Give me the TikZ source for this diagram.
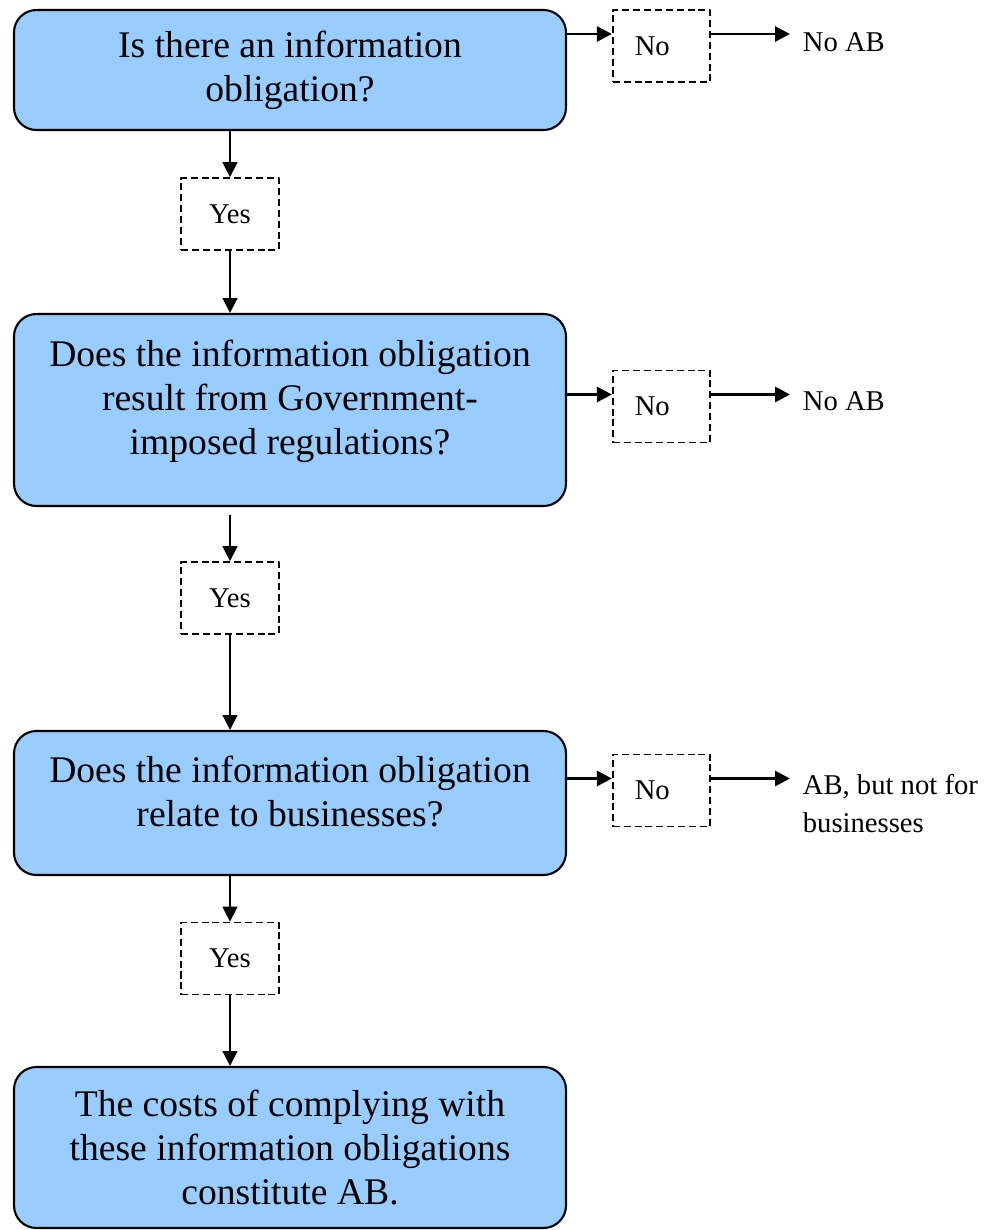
\documentclass[tikz,border=0pt]{standalone}
\usepackage{fontspec}
\setmainfont{Liberation Serif}
\usetikzlibrary{arrows.meta}
\definecolor{qblue}{HTML}{99CCFF}
\begin{document}
\begin{tikzpicture}[line join=round, >={Triangle[length=8.5pt,width=8.5pt]},
	qbox/.style={draw, line width=1.2pt, fill=qblue, rounded corners=0.45cm, minimum width=11.04cm, align=center, font=\fontsize{21.4}{25}\selectfont},
	ansbox/.style={draw, dash pattern=on 4pt off 2.2pt, line width=1pt, minimum width=1.95cm, minimum height=1.44cm, font=\fontsize{16.3}{21.6}\selectfont},
	nobox/.style={ansbox, text width=1.07cm, inner xsep=0.44cm, align=left},
	res/.style={anchor=west, align=left, inner xsep=0.25cm, font=\fontsize{16.3}{21.6}\selectfont},
	hline/.style={->, line width=1.6pt},
	vline/.style={->, line width=0.8pt}]
	\useasboundingbox (0,0) rectangle (19.8,-24.6);
	% questions
	\node[qbox, minimum height=2.4cm] (q1) at (5.8,-1.4) {Is there an information\\obligation?};
	\node[qbox, minimum height=3.84cm, text depth=0.52cm] (q2) at (5.8,-8.2) {Does the information obligation\\result from Government-\\imposed regulations?};
	\node[qbox, minimum height=2.88cm, text depth=0.48cm] (q3) at (5.8,-16.06) {Does the information obligation\\relate to businesses?};
	\node[qbox, minimum height=3.22cm] (q4) at (5.8,-22.95) {The costs of complying with\\these information obligations\\constitute AB.};
	% answers
	\node[ansbox] (y1) at (4.6,-4.28) {Yes};
	\node[ansbox] (y2) at (4.6,-11.96) {Yes};
	\node[ansbox] (y3) at (4.6,-19.17) {Yes};
	\node[nobox] (n1) at (13.23,-0.92) {No};
	\node[nobox] (n2) at (13.23,-8.13) {No};
	\node[nobox] (n3) at (13.23,-15.81) {No};
	% results
	\node[res] (r1) at (15.8,-0.84) {No AB};
	\node[res] (r2) at (15.8,-8.02) {No AB};
	\node[res] (r3) at (15.8,-16.08) {AB, but not for\\businesses};
	% connectors
	\foreach \q/\n/\r in {q1/n1/r1, q2/n2/r2, q3/n3/r3}{
		\draw[hline] ([yshift=0.24cm]\n.west -| \q.east) -- ([yshift=0.24cm]\n.west);
		\draw[hline] ([yshift=0.24cm]\n.east) -- ([yshift=0.24cm]\n.east -| \r.west);
	}
	\draw[vline] (y1 |- q1.south) -- (y1.north);
	\draw[vline] ([yshift=-0.16cm]y2 |- q2.south) -- (y2.north);
	\draw[vline] (y3 |- q3.south) -- (y3.north);
	\foreach \i/\j in {1/2, 2/3, 3/4}
		\draw[vline] (y\i.south) -- (y\i |- q\j.north);
\end{tikzpicture}
\end{document}
